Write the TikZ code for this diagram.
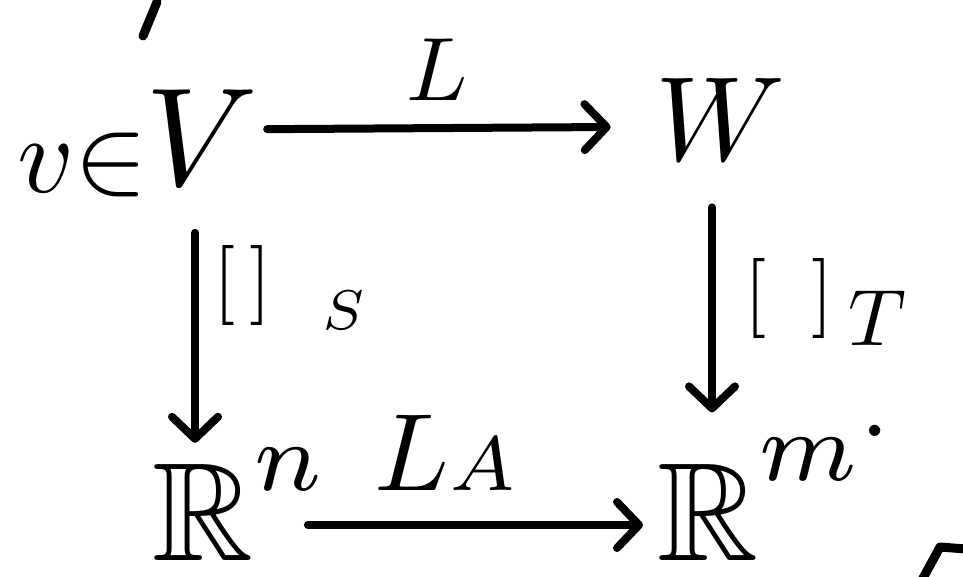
\documentclass[tikz,border=0pt]{standalone}
\usepackage{amssymb}
\usetikzlibrary{arrows.meta,calc}
\begin{document}
\begin{tikzpicture}[x=1pt,y=-1pt,
  obj/.style={inner sep=0pt, scale=14},
  lab/.style={inner sep=0pt, scale=9},
  arr/.style={line width=8pt, line cap=round,
    -{Straight Barb[length=22pt,width=46pt,round]}},
  stroke/.style={line width=9pt, line cap=round, line join=round}]
\useasboundingbox (0,0) rectangle (963,576);
% objects
\node[obj, anchor=base] (V) at (202,185) {$V$};
\node[inner sep=0pt, scale=11, anchor=base east] (vin) at (150,192) {$v{\in}$};
\node[obj, scale=12/14, anchor=base] (W) at (720,160) {$W$};
\node[obj, anchor=base west] (Rn) at (150,560)
  {$\mathbb{R}$\raisebox{5pt}{$\scriptstyle n$}};
\node[obj, anchor=base west] (Rm) at (655,560)
  {$\mathbb{R}$\raisebox{5.7pt}{$\scriptstyle m$}\raisebox{8.8pt}{$\scriptstyle .$}};
% labels
\node[lab, anchor=base] (L) at (437,100) {$L$};
\node[inner sep=0pt, scale=11, anchor=base west] (LA) at (372,490) {$L{\scriptstyle A}$};
\node[inner sep=0pt, scale=8, anchor=base west] (S) at (212,305) {${[\,]}_{\mkern14mu S}$};
\node[inner sep=0pt, scale=8, anchor=base west] (T) at (743,318) {${[\;\;]}_{\mkern4mu\textstyle T}$};
% arrows
\draw[arr] ($(V.east)+(6,-8)$) -- ($(W.west)+(-42,8)$);
\draw[arr] ($(V.south)+(-7,45)$) -- ($(V.south)+(-7,255)$);
\draw[arr] ($(W.south)+(-8,45)$) -- ($(W.south)+(-8,250)$);
\draw[arr] ($(Rn.base east)+(-18,-35)$) -- ($(Rm.base west)+(-12,-35)$);
% stray marks at the edges
\draw[stroke] (157,2) -- (143,36);
\draw[stroke] (922,580) -- (940,547) -- (966,549);
\end{tikzpicture}
\end{document}
